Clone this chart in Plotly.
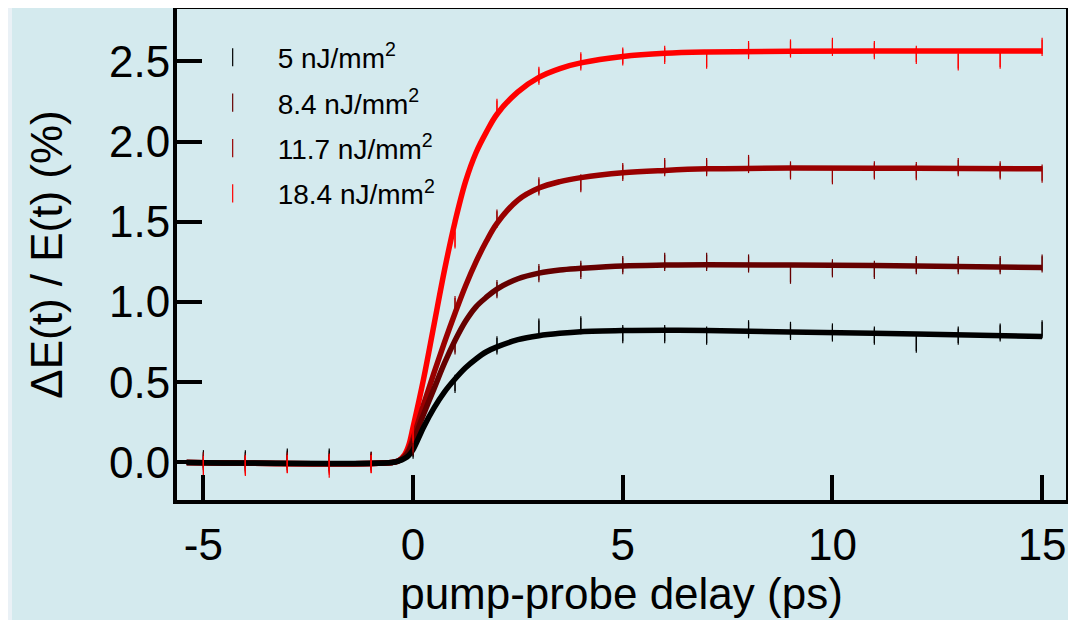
import plotly.graph_objects as go

# ---------------- data ----------------
labels = ["5 nJ/mm<sup>2</sup>", "8.4 nJ/mm<sup>2</sup>",
          "11.7 nJ/mm<sup>2</sup>", "18.4 nJ/mm<sup>2</sup>"]
colors = ["#000000", "#660000", "#990000", "#ff0000"]

# measured points (pump-probe delay in ps)
t_data = [-5, -4, -3, -2, -1, 0, 1, 2, 3, 4, 5, 6, 7, 8, 9, 10, 11, 12, 13, 14, 15]
y_5 = [0.02, 0.02, 0.03, 0.03, 0.01, 0.08, 0.49, 0.73, 0.84, 0.855, 0.80, 0.80, 0.79,
       0.83, 0.82, 0.81, 0.79, 0.74, 0.79, 0.81, 0.83]
y_8p4 = [0.01, 0.00, 0.01, 0.00, 0.01, 0.10, 0.73, 1.08, 1.18, 1.20, 1.23, 1.25, 1.25,
         1.24, 1.17, 1.21, 1.20, 1.23, 1.23, 1.23, 1.24]
y_11p7 = [0.00, -0.01, 0.00, -0.01, 0.00, 0.12, 0.98, 1.52, 1.72, 1.74, 1.81, 1.84, 1.84,
          1.86, 1.82, 1.79, 1.82, 1.815, 1.84, 1.82, 1.80]
y_18p4 = [-0.03, -0.02, -0.01, -0.02, -0.01, 0.18, 1.39, 2.21, 2.41, 2.50, 2.53, 2.54, 2.51,
          2.57, 2.58, 2.59, 2.57, 2.54, 2.50, 2.51, 2.59]
err_5 = [0.045] * 21
err_8p4 = [0.045] * 21
err_11p7 = [0.045] * 21
err_18p4 = [0.07, 0.065, 0.055, 0.075, 0.055] + [0.045] * 16

# fitted curves
tf = [-5.4, -0.5, -0.35, -0.2, -0.1, 0.0, 0.25, 0.5, 0.75, 1.0, 1.25, 1.5, 1.75, 2.0,
      2.5, 3.0, 3.5, 4.0, 5.0, 6.0, 7.0, 9.0, 12.0, 15.0]
f_5 = [0.0, 0.0, 0.008, 0.025, 0.045, 0.08, 0.22, 0.34, 0.44, 0.52, 0.59, 0.645, 0.69, 0.72,
       0.765, 0.79, 0.805, 0.815, 0.822, 0.824, 0.822, 0.813, 0.80, 0.785]
f_8p4 = [0.0, 0.0, 0.01, 0.035, 0.07, 0.13, 0.30, 0.46, 0.62, 0.76, 0.88, 0.97, 1.03, 1.08,
         1.145, 1.18, 1.20, 1.21, 1.225, 1.23, 1.232, 1.23, 1.225, 1.215]
f_11p7 = [0.0, 0.0, 0.01, 0.04, 0.08, 0.15, 0.36, 0.56, 0.75, 0.93, 1.10, 1.25, 1.38, 1.49,
          1.635, 1.71, 1.75, 1.775, 1.805, 1.82, 1.83, 1.835, 1.833, 1.83]
f_18p4 = [0.0, 0.0, 0.01, 0.05, 0.11, 0.22, 0.52, 0.86, 1.20, 1.50, 1.75, 1.93, 2.06, 2.17,
          2.31, 2.40, 2.455, 2.49, 2.53, 2.55, 2.558, 2.563, 2.565, 2.565]

x_ticks = [-5, 0, 5, 10, 15]
y_ticks = [0.0, 0.5, 1.0, 1.5, 2.0, 2.5]
y_ticklabels = ["0.0", "0.5", "1.0", "1.5", "2.0", "2.5"]

series_data = [(y_5, err_5), (y_8p4, err_8p4), (y_11p7, err_11p7), (y_18p4, err_18p4)]
series_fit = [f_5, f_8p4, f_11p7, f_18p4]

BG = "#d4eaee"
FONT = "Liberation Sans, Arial, sans-serif"

fig = go.Figure()

# fit curves: red first, black on top
for i in [3, 2, 1, 0]:
    fig.add_trace(go.Scatter(x=tf, y=series_fit[i], mode="lines",
                             line=dict(color=colors[i], width=5.5, shape="spline", smoothing=1.0),
                             showlegend=False, hoverinfo="skip"))

# data as vertical error bars
for i in range(4):
    yy, ee = series_data[i]
    fig.add_trace(go.Scatter(
        x=t_data, y=yy, mode="markers", name=labels[i], legendgroup=str(i),
        marker=dict(symbol="line-ns", size=13, color=colors[i], line=dict(color=colors[i], width=1.2)),
        error_y=dict(type="data", array=ee, visible=True, color=colors[i], thickness=1.2, width=0),
    ))

axis_common = dict(
    showline=True, linecolor="black", linewidth=4, mirror=True,
    ticks="inside", ticklen=25, tickwidth=4, tickcolor="black",
    showgrid=False, zeroline=False, automargin=False,
    tickfont=dict(family=FONT, size=44, color="black"),
)

fig.update_layout(
    width=1076, height=620,
    margin=dict(l=169, r=18, t=1, b=128),
    paper_bgcolor=BG, plot_bgcolor=BG,
    font=dict(family=FONT, color="black"),
    xaxis=dict(range=[-5.63, 15.57], tickvals=x_ticks, ticktext=[str(v) for v in x_ticks],
               ticklabelstandoff=3,
               title=dict(text="pump-probe delay (ps)", font=dict(family=FONT, size=44), standoff=0),
               **axis_common),
    yaxis=dict(range=[-0.234, 2.826], tickvals=y_ticks, ticktext=y_ticklabels,
               ticklabelstandoff=-6,
               title=dict(text="ΔE(t) / E(t) (%)", font=dict(family=FONT, size=44), standoff=34),
               **axis_common),
    legend=dict(x=0.012, y=0.952, xanchor="left", yanchor="top", bgcolor="rgba(0,0,0,0)",
                font=dict(family=FONT, size=28, color="black"), itemwidth=80, tracegroupgap=6),
    shapes=[dict(type="rect", xref="paper", yref="paper", x0=-0.2, x1=-0.1856, y0=-0.3, y1=1.05,
                 fillcolor="#eaf1f6", line=dict(width=0), layer="below")],
)

fig.write_html("out.html")
